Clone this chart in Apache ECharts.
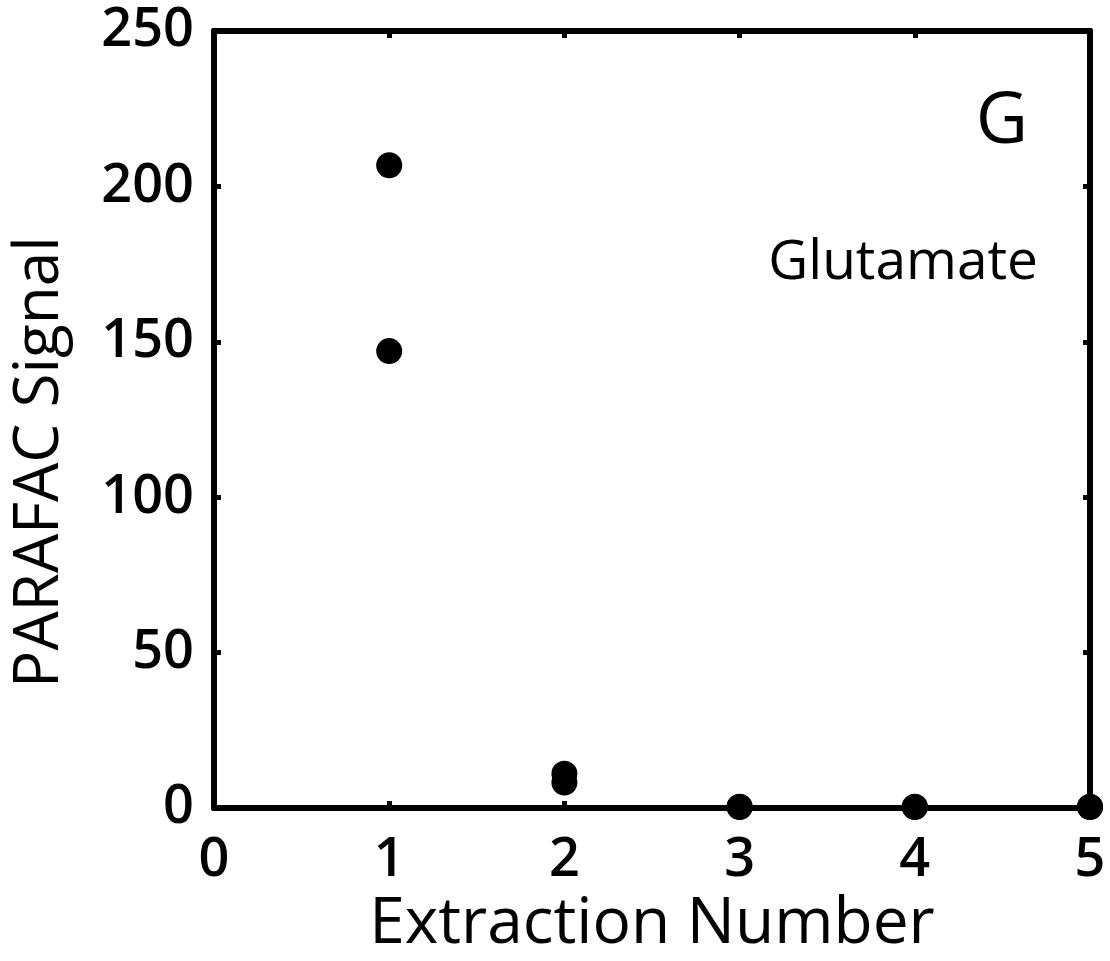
<!DOCTYPE html>
<html>
<head>
<meta charset="utf-8">
<script src="https://cdn.jsdelivr.net/npm/echarts@6/dist/echarts.min.js"></script>
<style>
  html, body { margin: 0; padding: 0; background: #fff; }
  #chart { width: 1110px; height: 961px; }
</style>
</head>
<body>
<div id="chart"></div>
<script>
// Extraction number of each measurement and its PARAFAC signal
const extraction = [1, 1, 2, 2, 3, 3, 4, 4, 5, 5];
const signal = [206.8, 147.0, 11.0, 8.2, 0.4, 0.3, 0.4, 0.3, 0.4, 0.3];
const xTicks = [0, 1, 2, 3, 4, 5];
const yTicks = [0, 50, 100, 150, 200, 250];

const FONT = '"Open Sans", "Liberation Sans", sans-serif';
const points = extraction.map((x, i) => [x, signal[i]]);

const frameAxis = {
  axisLine: { show: true, onZero: false, lineStyle: { color: '#000', width: 6 } },
  axisTick: { show: true, inside: true, length: 7, lineStyle: { color: '#000', width: 5 } },
  splitLine: { show: false }
};
const tickFont = { fontFamily: FONT, fontSize: 54, fontWeight: 600, color: '#000' };

const chart = echarts.init(document.getElementById('chart'), null, { renderer: 'canvas' });
chart.setOption({
  backgroundColor: '#fff',
  animation: false,
  grid: { left: 214, right: 20, top: 31, bottom: 153, containLabel: false, outerBoundsMode: 'none' },
  xAxis: [
    Object.assign({
      type: 'value', position: 'bottom',
      min: xTicks[0], max: xTicks[xTicks.length - 1], interval: 1,
      name: 'Extraction Number', nameLocation: 'middle', nameGap: 66,
      nameTextStyle: { fontFamily: FONT, fontSize: 64, color: '#000' },
      axisLabel: Object.assign({ margin: 26 }, tickFont)
    }, frameAxis),
    Object.assign({
      type: 'value', position: 'top',
      min: xTicks[0], max: xTicks[xTicks.length - 1], interval: 1,
      axisLabel: { show: false }
    }, frameAxis)
  ],
  yAxis: [
    Object.assign({
      type: 'value', position: 'left',
      min: yTicks[0], max: yTicks[yTicks.length - 1], interval: 50,
      axisLabel: Object.assign({ margin: 20, padding: [8, 0, 0, 0] }, tickFont)
    }, frameAxis),
    Object.assign({
      type: 'value', position: 'right',
      min: yTicks[0], max: yTicks[yTicks.length - 1], interval: 50,
      axisLabel: { show: false }
    }, frameAxis)
  ],
  graphic: [
    // y axis title, set a little below the middle of the frame
    { type: 'text', x: 40, y: 462, rotation: Math.PI / 2,
      style: { text: 'PARAFAC Signal', font: '62px ' + FONT, fill: '#000',
               align: 'center', verticalAlign: 'middle' } },
    { type: 'text', right: 82, top: 86,
      style: { text: 'G', font: '72px ' + FONT, fill: '#000' } },
    { type: 'text', right: 72, top: 236,
      style: { text: 'Glutamate', font: '55px ' + FONT, fill: '#000' } }
  ],
  series: [{
    type: 'scatter',
    data: points,
    symbol: 'circle',
    symbolSize: 26,
    clip: false,
    itemStyle: { color: '#000', opacity: 1 },
    z: 5
  }]
});
</script>
</body>
</html>
